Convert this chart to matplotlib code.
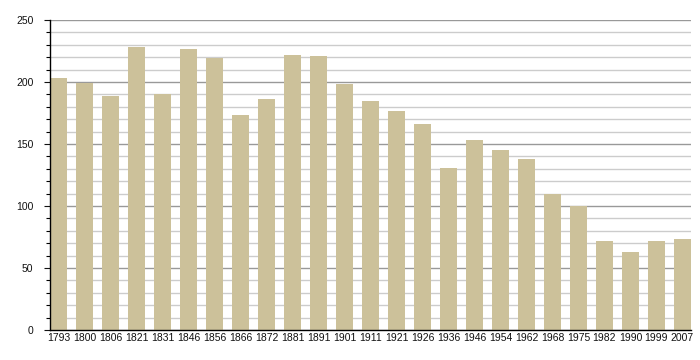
import matplotlib
matplotlib.use("Agg")
import matplotlib.pyplot as plt
from matplotlib.ticker import MultipleLocator

years = ["1793", "1800", "1806", "1821", "1831", "1846", "1856", "1866", "1872",
         "1881", "1891", "1901", "1911", "1921", "1926", "1936", "1946", "1954",
         "1962", "1968", "1975", "1982", "1990", "1999", "2007"]
population = [203, 199, 189, 228, 190, 227, 219, 173, 186, 222, 221, 198, 185,
              177, 166, 131, 153, 145, 138, 110, 100, 72, 63, 72, 73]

plt.rcParams['font.family'] = ['Liberation Sans', 'DejaVu Sans']

fig = plt.figure(figsize=(7, 3.6), dpi=100)
ax = fig.add_axes([50/700, 30/360, 641/700, 310/360])

x = list(range(len(years)))
ax.bar(x, population, width=0.656, color='#CCC19A', zorder=3)

ax.set_xlim(-0.33, len(years) - 1 + 0.33)
ax.set_ylim(0, 250)
ax.yaxis.set_major_locator(MultipleLocator(50))
ax.yaxis.set_minor_locator(MultipleLocator(10))
ax.grid(axis='y', which='major', color='#999999', linewidth=1.0, zorder=1)
ax.grid(axis='y', which='minor', color='#CCCCCC', linewidth=1.0, zorder=1)
ax.grid(axis='x', visible=False)

ax.set_xticks(x)
ax.set_xticklabels(years)
ax.tick_params(axis='x', length=0, pad=2, labelsize=7.5, colors='#111111')
ax.tick_params(axis='y', which='major', length=4, width=0.8, pad=8, labelsize=7.5, colors='#111111')
ax.tick_params(axis='y', which='minor', length=3, width=0.8)

for s in ['top', 'right']:
    ax.spines[s].set_visible(False)
ax.spines['left'].set_linewidth(1.0)
ax.spines['bottom'].set_linewidth(1.0)
ax.spines['left'].set_zorder(4)
ax.spines['bottom'].set_zorder(4)

fig.savefig("out.png", dpi=100)
